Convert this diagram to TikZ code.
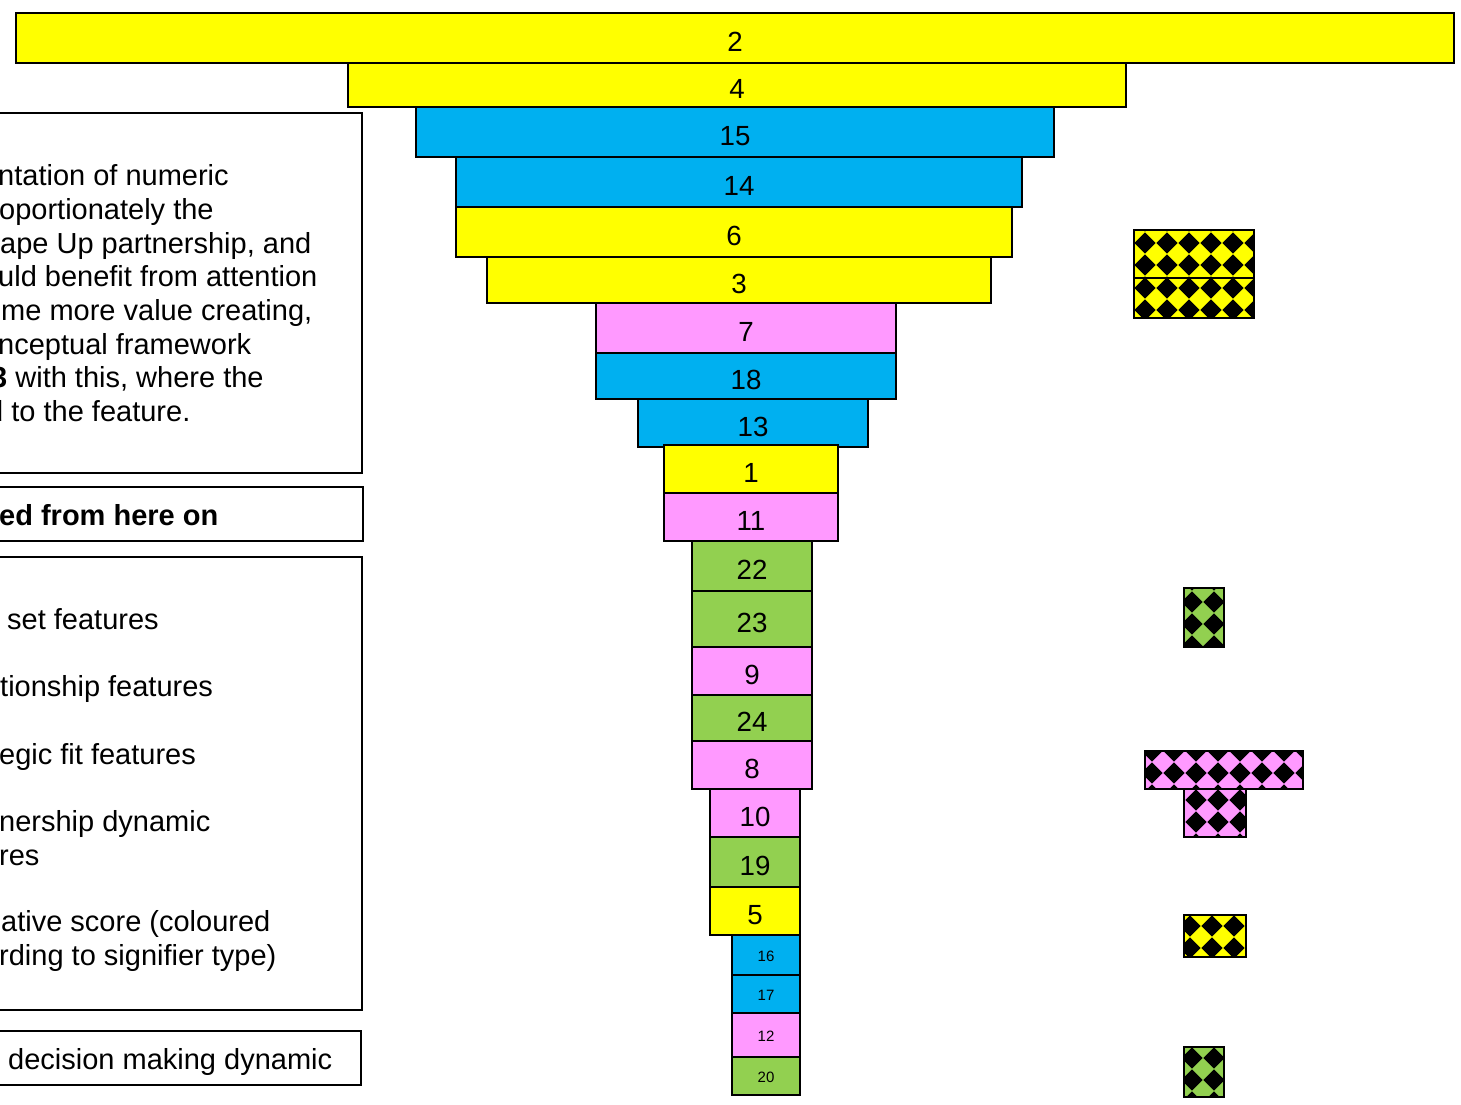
\documentclass[tikz,border=0pt]{standalone}
\usepackage{fontspec}
\setmainfont{Liberation Sans}
\definecolor{cyel}{HTML}{FFFF00}
\definecolor{cblu}{HTML}{00B0F0}
\definecolor{cpnk}{HTML}{FF99FF}
\definecolor{cgrn}{HTML}{92D050}
\newcommand\chk[8]{%
  \begin{scope}
    \clip (#2,#3) rectangle (#4,#5);
    \fill[#1] (#2,#3) rectangle (#4,#5);
    \foreach \i in {-2,...,9}{\foreach \j in {-2,...,4}{%
      \fill[black] ({#6+\i*#8},{#7+\j*#8}) +(0,-0.48*#8) -- +(0.48*#8,0) -- +(0,0.48*#8) -- +(-0.48*#8,0) -- cycle;}}
  \end{scope}
  \draw[line width=1.6pt] (#2,#3) rectangle (#4,#5);}
\tikzset{
  barbox/.style={draw=black, line width=1.6pt, inner sep=0pt,
    font=\fontsize{27.7pt}{30pt}\selectfont, text height=27.8pt, text depth=0pt},
  smallbar/.style={barbox, font=\fontsize{15pt}{18pt}\selectfont, text height=12.8pt},
  textbox/.style={draw=black, line width=1.6pt, inner sep=0pt, fill=none},
  txt/.style={anchor=base west, inner sep=0pt, font=\fontsize{29pt}{34pt}\selectfont},
  btxt/.style={txt, font=\fontsize{29pt}{34pt}\selectfont\bfseries},
}
\begin{document}
\begin{tikzpicture}[x=1pt,y=-1pt]
\useasboundingbox (0,0) rectangle (1461,1105);
\clip (0,0) rectangle (1461,1105);
\fill[white] (0,0) rectangle (1461,1105);

% funnel bars
\node[barbox, fill=cyel, minimum width=1438pt, minimum height=50pt] (b2)  at (735,38)  {2};
\node[barbox, fill=cyel, minimum width=778pt,  minimum height=44pt] (b4)  at (737,85)  {4};
\node[barbox, fill=cblu, minimum width=638pt,  minimum height=50pt] (b15) at (735,132) {15};
\node[barbox, fill=cblu, minimum width=566pt,  minimum height=50pt] (b14) at (739,182) {14};
\node[barbox, fill=cyel, minimum width=556pt,  minimum height=50pt] (b6)  at (734,232) {6};
\node[barbox, fill=cyel, minimum width=504pt,  minimum height=46pt] (b3)  at (739,280) {3};
\node[barbox, fill=cpnk, minimum width=300pt,  minimum height=50pt] (b7)  at (746,328) {7};
\node[barbox, fill=cblu, minimum width=300pt,  minimum height=46pt] (b18) at (746,376) {18};
\node[barbox, fill=cblu, minimum width=230pt,  minimum height=48pt] (b13) at (753,423) {13};
\node[barbox, fill=cyel, minimum width=174pt,  minimum height=48pt] (b1)  at (751,469) {1};
\node[barbox, fill=cpnk, minimum width=174pt,  minimum height=48pt] (b11) at (751,517) {11};
\node[barbox, fill=cgrn, minimum width=120pt,  minimum height=50pt] (b22) at (752,566) {22};
\node[barbox, fill=cgrn, minimum width=120pt,  minimum height=56pt] (b23) at (752,619) {23};
\node[barbox, fill=cpnk, minimum width=120pt,  minimum height=48pt] (b9)  at (752,671) {9};
\node[barbox, fill=cgrn, minimum width=120pt,  minimum height=46pt] (b24) at (752,718) {24};
\node[barbox, fill=cpnk, minimum width=120pt,  minimum height=48pt] (b8)  at (752,765) {8};
\node[barbox, fill=cpnk, minimum width=90pt,   minimum height=48pt] (b10) at (755,813) {10};
\node[barbox, fill=cgrn, minimum width=90pt,   minimum height=50pt] (b19) at (755,862) {19};
\node[barbox, fill=cyel, minimum width=90pt,   minimum height=48pt] (b5)  at (755,911) {5};
\node[smallbar, fill=cblu, minimum width=68pt, minimum height=40pt] (b16) at (766,955) {16};
\node[smallbar, fill=cblu, minimum width=68pt, minimum height=38pt] (b17) at (766,994) {17};
\node[smallbar, fill=cpnk, minimum width=68pt, minimum height=44pt] (b12) at (766,1035) {12};
\node[smallbar, fill=cgrn, minimum width=68pt, minimum height=38pt] (b20) at (766,1076) {20};

% chequered markers
\chk{cyel}{1134}{230}{1254}{278}{1145}{243}{22}
\chk{cyel}{1134}{278}{1254}{318}{1145}{288}{22}
\chk{cgrn}{1184}{588}{1224}{647}{1192}{602}{22}
\chk{cpnk}{1145}{751}{1303}{789}{1152}{773}{22}
\chk{cpnk}{1184}{789}{1246}{837}{1196}{800}{22}
\chk{cyel}{1184}{915}{1246}{957}{1190}{926}{22}
\chk{cgrn}{1184}{1047}{1224}{1097}{1192}{1058}{22}

% left text boxes (cut at the left edge)
\node[textbox, minimum width=382pt, minimum height=360pt] (box1) at (171,293) {};
\node[textbox, minimum width=383pt, minimum height=54pt]  (box2) at (171.5,514) {};
\node[textbox, minimum width=382pt, minimum height=453pt] (box3) at (171,783.5) {};
\node[textbox, minimum width=381pt, minimum height=54pt]  (box4) at (170.5,1058) {};

\node[txt] (l1) at (-2,185) {ntation of numeric};
\node[txt] (l2) at (-1,219) {oportionately the};
\node[txt] (l3) at (0,253) {ape Up partnership, and};
\node[txt] (l4) at (-2,286) {uld benefit from attention};
\node[txt] (l5) at (1,320) {me more value creating,};
\node[txt] (l6) at (-2,354) {nceptual framework};
\node[txt] (l7) at (-9,387) {\textbf{3} with this, where the};
\node[txt] (l8) at (-13,421) {d to the feature.};

\node[btxt] (h1) at (-1,525) {ed from here on};

\node[txt] (k1) at (7,629) {set features};
\node[txt] (k2) at (0,696) {tionship features};
\node[txt] (k3) at (-1,764) {egic fit features};
\node[txt] (k4) at (-1,831) {nership dynamic};
\node[txt] (k5) at (-1,865) {res};
\node[txt] (k6) at (1,931) {ative score (coloured};
\node[txt] (k7) at (-1,965) {rding to signifier type)};

\node[txt] (d1) at (8,1069) {decision making dynamic};
\end{tikzpicture}
\end{document}
